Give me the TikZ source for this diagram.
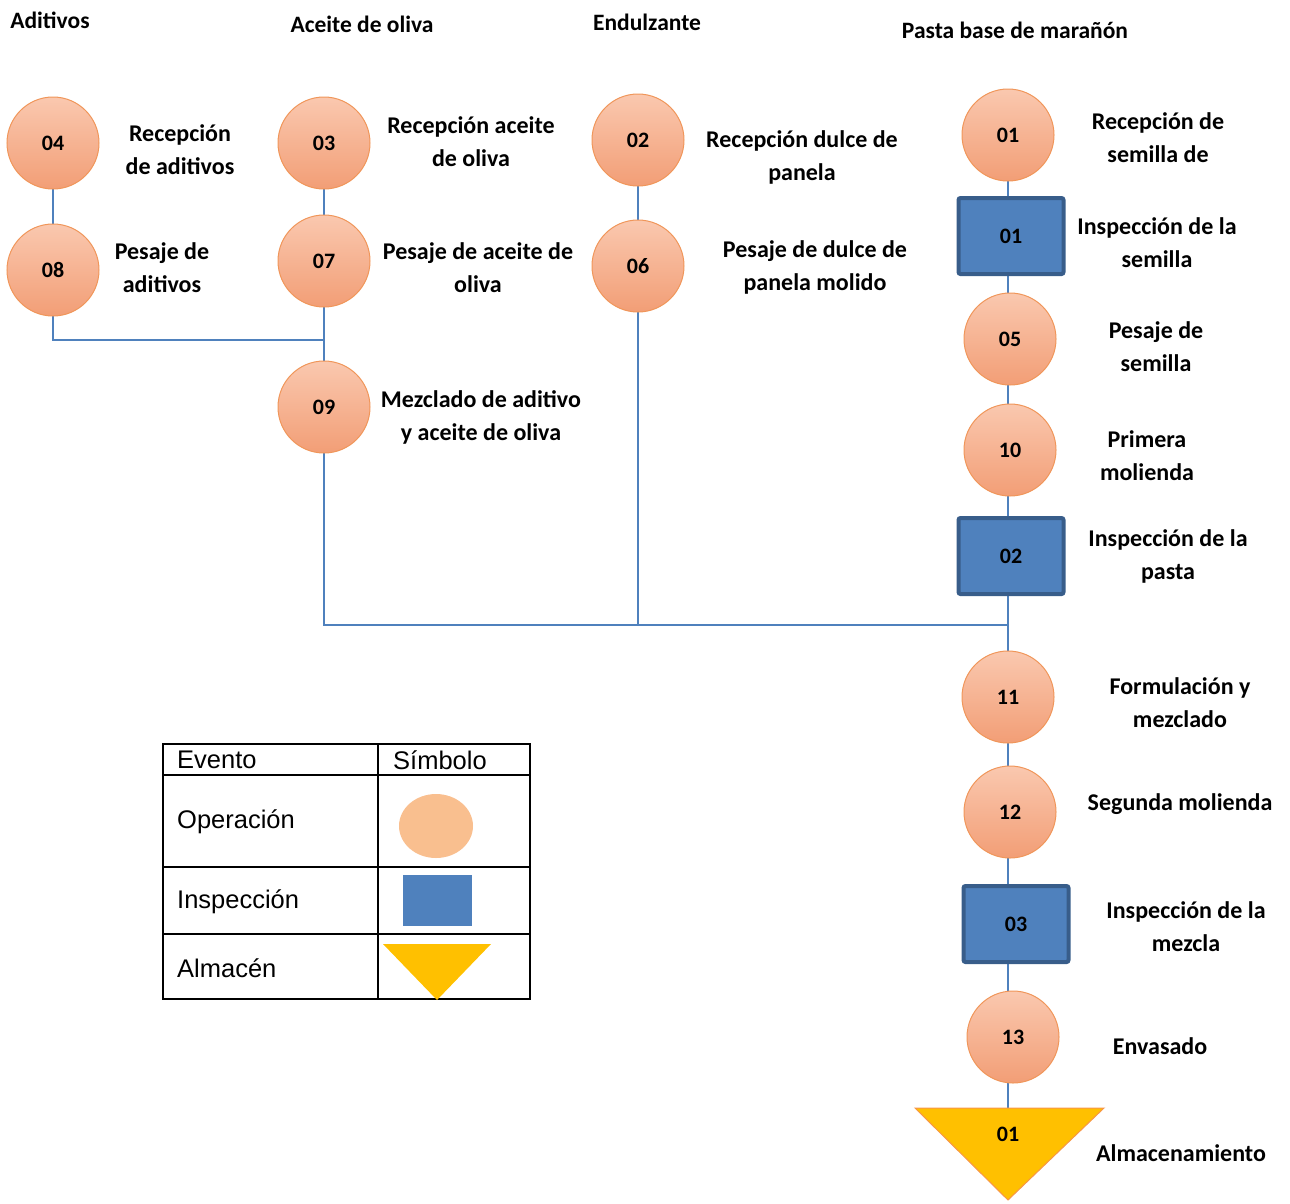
\documentclass[tikz,border=0pt]{standalone}
\usepackage{fontspec}
\setmainfont{Carlito}
\newfontfamily\tblfont{Liberation Sans}
\usetikzlibrary{backgrounds,shapes.geometric}
\definecolor{opTop}{RGB}{250,200,175}
\definecolor{opBot}{RGB}{242,158,118}
\definecolor{opEdge}{RGB}{240,150,90}
\definecolor{opLeg}{RGB}{249,191,143}
\definecolor{inspFill}{RGB}{79,129,189}
\definecolor{inspEdge}{RGB}{56,93,138}
\definecolor{almFill}{RGB}{255,192,0}
\definecolor{almEdge}{RGB}{247,150,70}
\definecolor{lineC}{RGB}{79,129,189}
\begin{document}
\begin{tikzpicture}[x=1pt,y=-1pt,
  op/.style={circle, minimum size=92pt, inner sep=0pt, top color=opTop, bottom color=opBot, draw=opEdge, line width=1pt, font=\fontsize{22}{26}\selectfont\bfseries},
  insp/.style={rectangle, minimum width=105pt, minimum height=76pt, inner sep=0pt, fill=inspFill, draw=inspEdge, line width=4pt, rounded corners=2pt, font=\fontsize{22}{26}\selectfont\bfseries},
  lbl/.style={align=center, font=\fontsize{24}{33}\selectfont\bfseries, inner sep=0pt},
  hdr/.style={font=\fontsize{23.5}{26}\selectfont\bfseries, inner sep=0pt},
  tbl/.style={font=\tblfont\fontsize{25.5}{30}\selectfont, inner sep=0pt, anchor=west},
  conn/.style={draw=lineC, line width=1.6pt}]
\useasboundingbox (0,0) rectangle (1290,1203);

% headers
\node[hdr] (h1) at (50,20) {Aditivos};
\node[hdr] (h2) at (362,24) {Aceite de oliva};
\node[hdr] (h3) at (647,22) {Endulzante};
\node[hdr] (h4) at (1015,30) {Pasta base de marañón};

% junctions
\coordinate (j1) at (325,340);
\coordinate (j2) at (1008,625);
\coordinate (almtop) at (1008,1108);

% operation nodes
\node[op] (n04) at (53,143) {04};
\node[op] (n08) at (53,270) {08};
\node[op] (n03) at (324,143) {03};
\node[op] (n07) at (324,261) {07};
\node[op] (n09) at (324,407) {09};
\node[op] (n02) at (638,140) {02};
\node[op] (n06) at (638,266) {06};
\node[op] (n01) at (1008,135) {01};
\node[insp] (s01) at (1011,236) {01};
\node[op] (n05) at (1010,339) {05};
\node[op] (n10) at (1010,450) {10};
\node[insp] (s02) at (1011,556) {02};
\node[op] (n11) at (1008,697) {11};
\node[op] (n12) at (1010,812) {12};
\node[insp] (s03) at (1016,924) {03};
\node[op] (n13) at (1013,1037) {13};

% storage triangle
\fill[almFill, draw=almEdge, line width=1pt] (915,1108) -- (1104,1108) -- (1008,1200) -- cycle;
\node[font=\fontsize{22}{26}\selectfont\bfseries, inner sep=0pt] (a01) at (1008,1134) {01};

% connectors
\begin{scope}[on background layer]
\draw[conn] (n04.center) |- (j1);
\draw[conn] (n03.center) |- (j2);
\draw[conn] (n02.center) -- (n02.center |- j2);
\draw[conn] (n01.center) -- (almtop);
\end{scope}

% labels
\node[lbl] (l04) at (180,150) {Recepción\\de aditivos};
\node[lbl] (l08) at (162,268) {Pesaje de\\aditivos};
\node[lbl] (l03) at (471,142) {Recepción aceite\\de oliva};
\node[lbl] (l07) at (478,268) {Pesaje de aceite de\\oliva};
\node[lbl] (l09) at (481,417) {Mezclado de aditivo\\y aceite de oliva};
\node[lbl] (l02) at (802,157) {Recepción dulce de\\panela};
\node[lbl] (l06) at (815,267) {Pesaje de dulce de\\panela molido};
\node[lbl] (l01) at (1158,138) {Recepción de\\semilla de};
\node[lbl] (ls01) at (1157,243) {Inspección de la\\semilla};
\node[lbl] (l05) at (1156,347) {Pesaje de\\semilla};
\node[lbl] (l10) at (1147,456) {Primera\\molienda};
\node[lbl] (ls02) at (1168,556) {Inspección de la\\pasta};
\node[lbl] (l11) at (1180,703) {Formulación y\\mezclado};
\node[lbl] (l12) at (1180,804) {Segunda molienda};
\node[lbl] (ls03) at (1186,927) {Inspección de la\\mezcla};
\node[lbl] (l13) at (1160,1046) {Envasado};
\node[lbl] (la01) at (1181,1153) {Almacenamiento};

% legend table
\draw[line width=1.5pt] (163,744) rectangle (530,999);
\draw[line width=1.5pt] (378,744) -- (378,999);
\draw[line width=1.5pt] (163,775) -- (530,775);
\draw[line width=1.5pt] (163,867) -- (530,867);
\draw[line width=1.5pt] (163,934) -- (530,934);
\node[tbl] (t1) at (177,760) {Evento};
\node[tbl] (t2) at (393,760) {Símbolo};
\node[tbl] (t3) at (177,822) {Operación};
\node[tbl] (t4) at (177,902) {Inspección};
\node[tbl] (t5) at (177,968) {Almacén};
\node[ellipse, fill=opLeg, minimum width=74pt, minimum height=64pt, inner sep=0pt] (e1) at (436,826) {};
\node[rectangle, fill=inspFill, minimum width=69pt, minimum height=51pt, inner sep=0pt] (e2) at (437,900) {};
\fill[almFill] (383,944) -- (491,944) -- (437,1000) -- cycle;
\end{tikzpicture}
\end{document}
